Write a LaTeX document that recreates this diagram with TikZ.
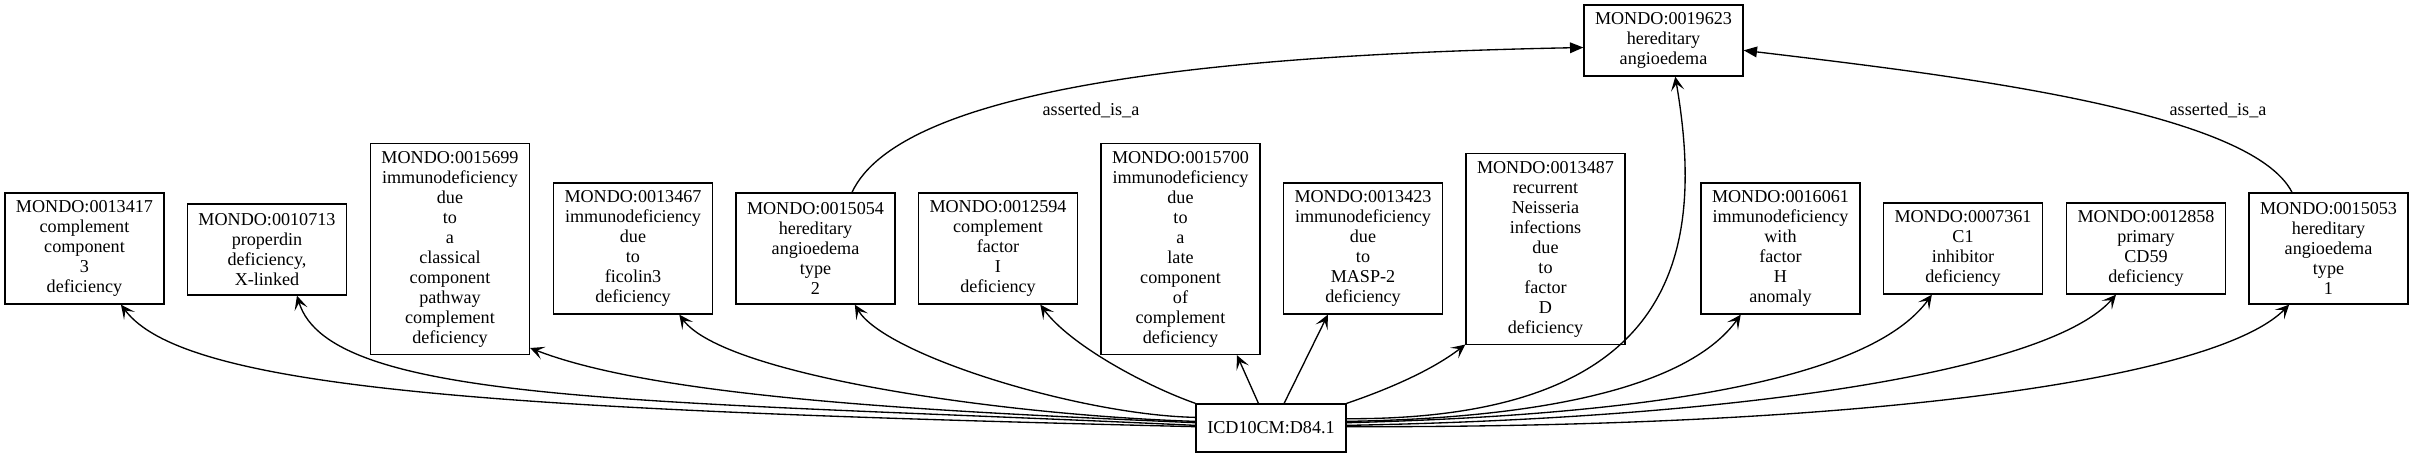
\documentclass[tikz,border=0pt]{standalone}
\usepackage{fontspec}
\setmainfont{Liberation Serif}
\usetikzlibrary{arrows.meta}

\begin{document}
\begin{tikzpicture}[
  x=0.75pt, y=-0.75pt,
  font=\fontsize{13.6pt}{15pt}\selectfont,
  term/.style={rectangle, draw, line width=1pt, align=center,
               inner xsep=5pt, inner ysep=0pt, minimum width=119.25pt,
               minimum height={15pt*#1+8.25pt}},
  xref/.style={draw, line width=1pt,
               -{Stealth[length=10.5pt, width=10pt, inset=5pt]}},
  isa/.style ={draw, line width=1pt, -{Triangle[length=10pt, width=8pt]}},
  lbl/.style ={inner sep=0pt},
]
\useasboundingbox (0,0) rectangle (2413,457);

%-- TOP: parent class
\node[term=3] (m19623) at (1663.5,40.5) {MONDO:0019623\\hereditary\\angioedema};

%-- MIDDLE: mapped MONDO terms
\node[term=5]  (m13417) at (84.5,248.5)   {MONDO:0013417\\complement\\component\\3\\deficiency};
\node[term=4]  (m10713) at (267,249.5)    {MONDO:0010713\\properdin\\deficiency,\\X-linked};
\node[term=10] (m15699) at (450,249)      {MONDO:0015699\\immunodeficiency\\due\\to\\a\\classical\\component\\pathway\\complement\\deficiency};
\node[term=6]  (m13467) at (633,248.5)    {MONDO:0013467\\immunodeficiency\\due\\to\\ficolin3\\deficiency};
\node[term=5]  (m15054) at (815.5,248.5)  {MONDO:0015054\\hereditary\\angioedema\\type\\2};
\node[term=5]  (m12594) at (998,248.5)    {MONDO:0012594\\complement\\factor\\I\\deficiency};
\node[term=10] (m15700) at (1180.5,249)   {MONDO:0015700\\immunodeficiency\\due\\to\\a\\late\\component\\of\\complement\\deficiency};
\node[term=6]  (m13423) at (1363,248.5)   {MONDO:0013423\\immunodeficiency\\due\\to\\MASP-2\\deficiency};
\node[term=9]  (m13487) at (1545.5,249)   {MONDO:0013487\\recurrent\\Neisseria\\infections\\due\\to\\factor\\D\\deficiency};
\node[term=6]  (m16061) at (1780.5,248.5) {MONDO:0016061\\immunodeficiency\\with\\factor\\H\\anomaly};
\node[term=4]  (m07361) at (1963,248.5)   {MONDO:0007361\\C1\\inhibitor\\deficiency};
\node[term=4]  (m12858) at (2146,248.5)   {MONDO:0012858\\primary\\CD59\\deficiency};
\node[term=5]  (m15053) at (2328.5,248.5) {MONDO:0015053\\hereditary\\angioedema\\type\\1};

%-- BOTTOM: source code
\node[term=1, minimum width=112.5pt, minimum height=36pt] (icd) at (1271,428) {ICD10CM:D84.1};

%-- xref edges, left side
\draw[xref] (icd.179) .. controls (500,410) and (185,390) .. (m13417.-57);
\draw[xref] (icd.178) .. controls (650,400) and (330,405) .. (m10713.-57);
\draw[xref] (icd.176) .. controls (950,412) and (661,399) .. (m15699.-51);
\draw[xref] (icd.175) .. controls (1000,415) and (724,375) .. (m13467.-55);
\draw[xref] (icd.172) .. controls (1080,415) and (885,355) .. (m15054.-55);
\draw[xref] (icd.north west) .. controls (1146,386) and (1070,345) .. (m12594.-53);
\draw[xref] (icd.117) -- (m15700.-62);
\draw[xref] (icd.62)  -- (m13423.-118);

%-- xref edges, right side
\draw[xref] (icd.north east) .. controls (1386,390) and (1431,371) .. (m13487.-130);
\draw[xref] (icd.7) .. controls (1680,420) and (1705,250) .. (m19623.-72);
\draw[xref] (icd.5) .. controls (1550,418) and (1690,385) .. (m16061.-121);
\draw[xref] (icd.4) .. controls (1650,415) and (1870,380) .. (m07361.-124);
\draw[xref] (icd.2) .. controls (1750,418) and (2050,370) .. (m12858.-123);
\draw[xref] (icd.1) .. controls (1900,428) and (2220,375) .. (m15053.-125);

%-- asserted is_a edges
\draw[isa] (m15054.57)  .. controls (900,90) and (1200,55) .. (m19623.185);
\draw[isa] (m15053.123) .. controls (2250,110) and (1950,75) .. (m19623.-7);
\node[lbl] (isa1) at (1091,110) {asserted\_is\_a};
\node[lbl] (isa2) at (2218,110) {asserted\_is\_a};

\end{tikzpicture}
\end{document}
